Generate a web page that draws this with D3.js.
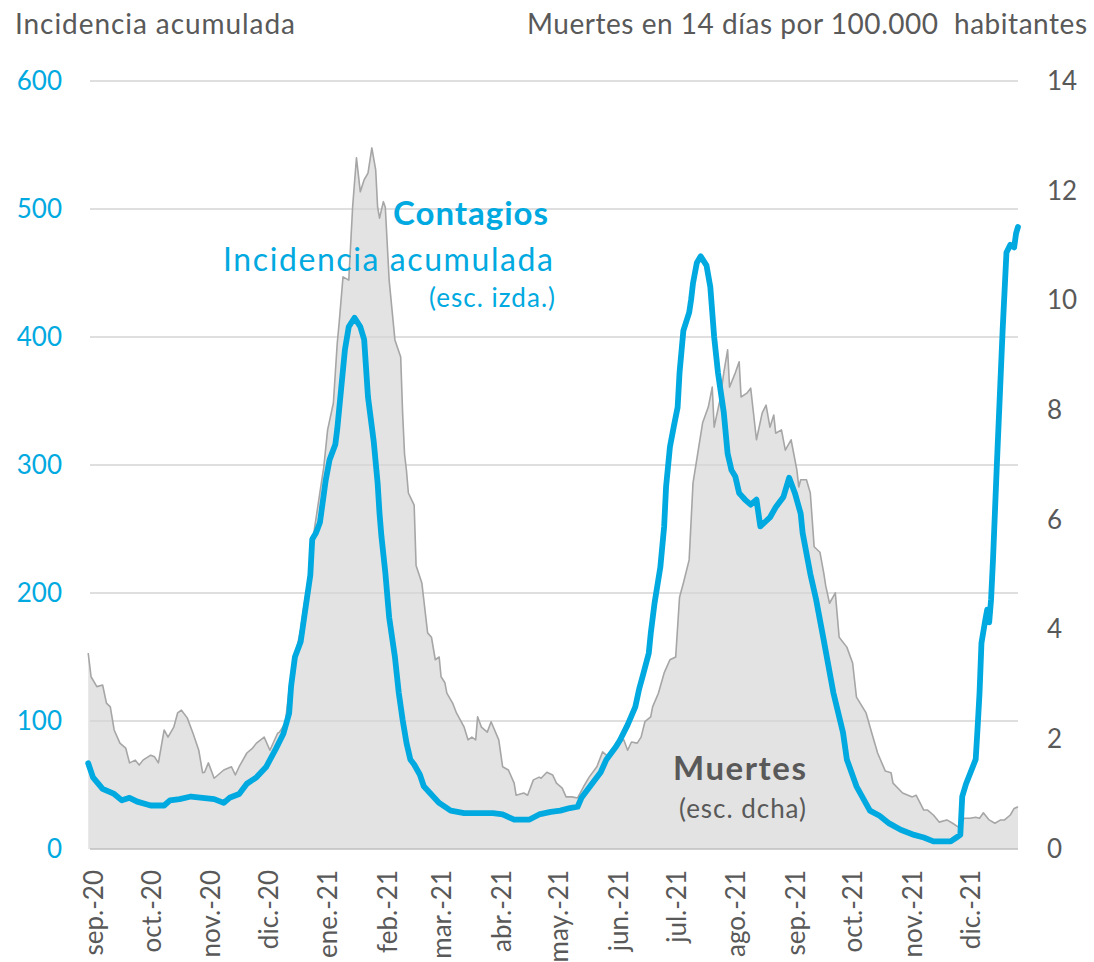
<!DOCTYPE html>
<html>
<head>
<meta charset="utf-8">
<script src="https://cdn.jsdelivr.net/npm/d3@7"></script>
<style>
  html, body { margin: 0; padding: 0; background: #ffffff; }
  svg { display: block; }
  text { font-family: Lato, "Open Sans", "DejaVu Sans", sans-serif; }
</style>
</head>
<body>
<svg id="chart" width="1094" height="962"></svg>
<script>
// ---- Data (days since 1 Sep 2020) ----
const incDays = [-2.5,0,5,11,15,19,23,30,37,40,45,51,57,63,68,71,76,80,85,90,95,99,102,103,105,108,110,113,114,116,118,121,123,126,127,129,131,133,136,139,141,143,146,148,149,150,152,154,157,159,161,163,165,167,170,172,180,186,193,205,208,213,219,227,232,238,243,248,252,254,258,264,267,272,274,278,282,284,286,289,290,292,295,297,298,300,302,304,305,307,310,311,312,314,316,319,321,323,325,328,330,332,334,336,339,342,345,347,352,355,359,362,365,368,369,373,376,380,385,390,392,397,404,409,414,420,427,432,437,446,449,451,452,454,459,460,461,462,464,465,466,467,468,470,472,473,475,477,479,480,481];
const incValues = [67,56,47,43,38,40,37,34,34,38,39,41,40,39,36,40,43,51,56,64,78,90,106,127,150,162,183,214,242,247,255,288,304,316,328,359,390,408,415,408,398,353,318,286,262,244,216,181,150,122,101,83,70,66,58,49,36,30,28,28,28,27,23,23,27,29,30,32,33,40,48,60,70,80,85,97,111,125,136,153,168,192,220,252,283,314,330,345,372,405,419,429,442,458,463,456,439,400,372,341,309,296,291,278,273,269,273,252,259,267,275,290,278,262,247,215,195,163,122,91,70,49,30,26,20,15,11,9,6,6,9,11,41,51,70,95,122,161,179,187,177,195,226,300,370,405,466,472,470,481,486];

const deathDays = [-2.5,-1,2,5,7,9,11,14,17,19,22,24,26,30,32,34,37,39,42,44,46,49,52,55,57,58,60,63,68,72,74,76,80,83,85,89,92,96,97,100,102,105,108,110,113,115,118,120,122,125,127,128,130,133,135,137,139,141,143,145,147,148,149,151,152,154,157,160,161,162,163,164,167,168,171,174,176,178,180,181,183,184,187,189,193,195,197,199,200,202,205,207,211,213,216,219,220,224,226,229,232,233,236,239,241,244,246,249,252,255,258,262,265,268,272,276,278,280,283,285,287,290,291,294,297,300,303,305,307,310,312,315,317,320,322,323,326,328,330,331,334,336,337,340,342,345,348,350,352,354,355,358,360,363,366,367,368,371,373,375,378,380,381,383,386,388,392,395,397,402,405,408,412,415,416,421,426,428,432,434,437,440,444,447,450,453,456,459,461,463,466,469,472,474,477,479,481];
const deathValues = [3.57,3.14,2.96,2.99,2.66,2.59,2.17,1.93,1.84,1.57,1.62,1.53,1.62,1.71,1.68,1.57,2.17,2.04,2.22,2.48,2.53,2.39,2.11,1.80,1.39,1.40,1.57,1.29,1.44,1.50,1.35,1.50,1.75,1.84,1.93,2.04,1.80,2.11,2.13,2.3,2.9,3.5,4.0,4.5,5.1,5.8,6.5,6.96,7.64,8.13,9.22,9.59,10.43,10.37,11.70,12.6,11.98,12.2,12.32,12.78,12.38,11.70,11.5,11.8,11.70,10.37,9.28,8.97,7.95,7.2,6.9,6.49,6.27,5.17,4.85,3.94,3.86,3.45,3.5,3.14,3.03,2.84,2.66,2.48,2.22,1.99,2.04,1.99,2.41,2.22,2.13,2.32,1.99,1.50,1.44,1.20,0.98,1.02,0.98,1.26,1.31,1.29,1.40,1.35,1.20,1.11,0.95,0.95,0.93,1.13,1.31,1.50,1.77,1.68,1.93,1.99,1.80,1.95,1.93,2.04,2.32,2.41,2.59,2.84,3.21,3.45,3.50,4.59,4.85,5.27,6.67,7.33,7.77,8.06,8.42,7.69,8.18,8.68,9.1,8.42,8.68,8.88,8.24,8.31,8.40,7.46,7.95,8.09,7.69,7.91,7.58,7.64,7.27,7.46,6.91,6.60,6.73,6.73,6.49,5.51,5.41,5.03,4.8,4.48,4.67,3.86,3.68,3.39,2.77,2.48,2.11,1.75,1.42,1.39,1.20,1.02,0.95,0.98,0.71,0.71,0.62,0.49,0.53,0.47,0.40,0.56,0.56,0.58,0.56,0.66,0.53,0.47,0.53,0.53,0.62,0.74,0.77];

const monthLabels = ["sep.-20","oct.-20","nov.-20","dic.-20","ene.-21","feb.-21","mar.-21","abr.-21","may.-21","jun.-21","jul.-21","ago.-21","sep.-21","oct.-21","nov.-21","dic.-21"];
const leftTicks = [0,100,200,300,400,500,600];
const rightTicks = [0,2,4,6,8,10,12,14];

// ---- Setup ----
const BLUE = "#00a9e0";
const GREY_TXT = "#595959";
const DAY_MS = 864e5;
const origin = Date.UTC(2020, 8, 1);
const toDate = d => new Date(origin + d * DAY_MS);

const svg = d3.select("#chart");
const plotL = 88, plotR = 1018, plotT = 81, plotB = 849;

const x = d3.scaleUtc().domain([toDate(-2.6), toDate(481)]).range([plotL, plotR]);
const yL = d3.scaleLinear().domain([0, 600]).range([plotB, plotT]);
const yR = d3.scaleLinear().domain([0, 14]).range([plotB, plotT]);

const incData = incDays.map((d, i) => ({ date: toDate(d), v: incValues[i] }));
const deathData = deathDays.map((d, i) => ({ date: toDate(d), v: deathValues[i] }));

// Deaths area
svg.append("path")
  .datum(deathData)
  .attr("fill", "#e3e3e3")
  .attr("d", d3.area().x(d => x(d.date)).y0(plotB).y1(d => yR(d.v)));

// Gridlines
svg.append("g").selectAll("line").data(leftTicks).join("line")
  .attr("x1", 90).attr("x2", plotR)
  .attr("y1", d => yL(d)).attr("y2", d => yL(d))
  .attr("stroke", d => d === 0 ? "#bfbfbf" : "#d4d4d4")
  .attr("stroke-width", 1.5);

// Deaths line
svg.append("path")
  .datum(deathData)
  .attr("fill", "none")
  .attr("stroke", "#a6a6a6")
  .attr("stroke-width", 1.6)
  .attr("stroke-linejoin", "round")
  .attr("d", d3.line().x(d => x(d.date)).y(d => yR(d.v)));

// Incidence line
svg.append("path")
  .datum(incData)
  .attr("fill", "none")
  .attr("stroke", BLUE)
  .attr("stroke-width", 5.8)
  .attr("stroke-linejoin", "round")
  .attr("stroke-linecap", "round")
  .attr("d", d3.line().x(d => x(d.date)).y(d => yL(d.v)));

// Left axis labels
const gL = svg.append("g").attr("transform", "translate(62,0)")
  .call(d3.axisLeft(yL).tickValues(leftTicks).tickSize(0).tickPadding(0));
gL.select(".domain").remove();
gL.selectAll("text").attr("fill", BLUE).style("font-size", "26px")
  .style("font-family", "Lato, sans-serif");

// Right axis labels
const gR = svg.append("g").attr("transform", "translate(1047,0)")
  .call(d3.axisRight(yR).tickValues(rightTicks).tickSize(0).tickPadding(0));
gR.select(".domain").remove();
gR.selectAll("text").attr("fill", GREY_TXT).style("font-size", "26px")
  .style("font-family", "Lato, sans-serif");

// X axis labels (month starts)
const months = d3.utcMonth.range(toDate(0), toDate(482));
const gX = svg.append("g").attr("transform", `translate(0,${plotB})`)
  .call(d3.axisBottom(x).tickValues(months).tickSize(0)
    .tickFormat((d, i) => monthLabels[i]));
gX.select(".domain").remove();
gX.selectAll("text")
  .attr("fill", GREY_TXT)
  .style("font-size", "26px")
  .style("font-family", "Lato, sans-serif")
  .attr("text-anchor", "end")
  .attr("transform", "translate(0,21) rotate(-90)")
  .attr("x", 0).attr("y", 0).attr("dy", "0.36em");

// Titles
svg.append("text").attr("x", 15).attr("y", 34)
  .attr("fill", GREY_TXT).style("font-size", "28px")
  .attr("textLength", 280)
  .text("Incidencia acumulada");
svg.append("text").attr("x", 527).attr("y", 34)
  .attr("fill", GREY_TXT).style("font-size", "28px")
  .attr("textLength", 560)
  .style("white-space", "pre")
  .text("Muertes en 14 días por 100.000  habitantes");

// Annotations
svg.append("text").attr("x", 393).attr("y", 225)
  .attr("fill", BLUE).style("font-size", "33px").style("font-weight", "bold")
  .attr("textLength", 155).text("Contagios");
svg.append("text").attr("x", 223).attr("y", 271)
  .attr("fill", BLUE).style("font-size", "32px")
  .attr("textLength", 330).text("Incidencia acumulada");
svg.append("text").attr("x", 429).attr("y", 307)
  .attr("fill", BLUE).style("font-size", "26px")
  .attr("textLength", 126).text("(esc. izda.)");
svg.append("text").attr("x", 673).attr("y", 780)
  .attr("fill", GREY_TXT).style("font-size", "33px").style("font-weight", "bold")
  .attr("textLength", 133).text("Muertes");
svg.append("text").attr("x", 679).attr("y", 818)
  .attr("fill", GREY_TXT).style("font-size", "26px")
  .attr("textLength", 127).text("(esc. dcha)");
</script>
</body>
</html>
